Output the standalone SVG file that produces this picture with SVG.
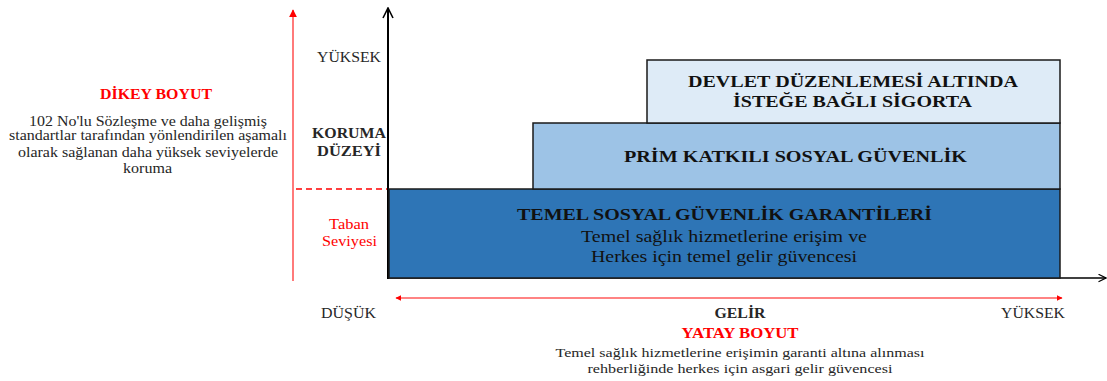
<svg xmlns="http://www.w3.org/2000/svg" width="1107" height="381" viewBox="0 0 1107 381">
<style>
text{font-family:"Liberation Serif","Times New Roman",serif;fill:#262626;text-anchor:middle;}
.b{font-weight:bold;}
.red{fill:#ff0000;}
.lbl{font-size:14px;}
.sm{font-size:12.5px;}
.box{stroke:#1a1a1a;stroke-width:1.5;}
.t{font-size:16px;font-weight:bold;fill:#111;}
.s{font-size:16px;fill:#111;}
</style>
<defs>
<marker id="redTri" viewBox="0 0 10 10" refX="9" refY="5" markerWidth="4" markerHeight="4" orient="auto-start-reverse" markerUnits="strokeWidth">
<path d="M0,0 L10,5 L0,10 z" fill="#ff0000"/>
</marker>
<marker id="openArr" viewBox="0 0 12 12" refX="11" refY="6" markerWidth="6" markerHeight="6" orient="auto" markerUnits="strokeWidth">
<path d="M1,1 L11,6 L1,11" fill="none" stroke="#000" stroke-width="1.6"/>
</marker>
</defs>

<g id="connectors">
<line x1="293" y1="281" x2="293" y2="10" stroke="#ff7a7a" stroke-width="2" marker-end="url(#redTri)"/>
<line x1="296" y1="189" x2="388" y2="189" stroke="#ff0000" stroke-width="1.5" stroke-dasharray="6,4"/>
<line x1="388" y1="279" x2="388" y2="8" stroke="#000" stroke-width="2" marker-end="url(#openArr)"/>
<line x1="388" y1="278" x2="1106" y2="278" stroke="#000" stroke-width="1.5" marker-end="url(#openArr)"/>
<line x1="396" y1="298" x2="1062" y2="298" stroke="#ff5a5a" stroke-width="1.5" marker-start="url(#redTri)" marker-end="url(#redTri)"/>
</g>

<g id="node-base">
<rect class="box" x="389" y="189" width="671" height="89" fill="#2e75b6"/>
<text class="t" x="724.5" y="220" textLength="415" lengthAdjust="spacingAndGlyphs">TEMEL SOSYAL GÜVENLİK GARANTİLERİ</text>
<text class="s" x="724" y="242" textLength="286" lengthAdjust="spacingAndGlyphs">Temel sağlık hizmetlerine erişim ve</text>
<text class="s" x="724" y="262" textLength="266" lengthAdjust="spacingAndGlyphs">Herkes için temel gelir güvencesi</text>
</g>

<g id="node-prim">
<rect class="box" x="533" y="123" width="527" height="66" fill="#9dc3e6"/>
<text class="t" x="795.5" y="162" textLength="343" lengthAdjust="spacingAndGlyphs">PRİM KATKILI SOSYAL GÜVENLİK</text>
</g>

<g id="node-devlet">
<rect class="box" x="647" y="60" width="413" height="63" fill="#deebf7"/>
<text class="t" x="853" y="87" textLength="330" lengthAdjust="spacingAndGlyphs">DEVLET DÜZENLEMESİ ALTINDA</text>
<text class="t" x="852.5" y="107" textLength="239" lengthAdjust="spacingAndGlyphs">İSTEĞE BAĞLI SİGORTA</text>
</g>

<g id="labels">
<text class="lbl" x="349" y="62" textLength="64" lengthAdjust="spacingAndGlyphs">YÜKSEK</text>
<text class="lbl b" x="349" y="138" textLength="74" lengthAdjust="spacingAndGlyphs">KORUMA</text>
<text class="lbl b" x="349" y="156" textLength="64" lengthAdjust="spacingAndGlyphs">DÜZEYİ</text>
<text class="lbl red" x="349" y="229" textLength="40" lengthAdjust="spacingAndGlyphs">Taban</text>
<text class="lbl red" x="349.5" y="246" textLength="55" lengthAdjust="spacingAndGlyphs">Seviyesi</text>
<text class="lbl b red" x="156" y="99" textLength="112" lengthAdjust="spacingAndGlyphs">DİKEY BOYUT</text>
<text class="lbl" x="148" y="126" textLength="238" lengthAdjust="spacingAndGlyphs">102 No'lu Sözleşme ve daha gelişmiş</text>
<text class="lbl" x="148" y="140" textLength="278" lengthAdjust="spacingAndGlyphs">standartlar tarafından yönlendirilen aşamalı</text>
<text class="lbl" x="148" y="157" textLength="260" lengthAdjust="spacingAndGlyphs">olarak sağlanan daha yüksek seviyelerde</text>
<text class="lbl" x="147.5" y="173" textLength="49" lengthAdjust="spacingAndGlyphs">koruma</text>
<text class="lbl" x="348.5" y="318" textLength="55" lengthAdjust="spacingAndGlyphs">DÜŞÜK</text>
<text class="lbl b" x="740" y="318" textLength="51" lengthAdjust="spacingAndGlyphs">GELİR</text>
<text class="lbl" x="1033" y="318" textLength="64" lengthAdjust="spacingAndGlyphs">YÜKSEK</text>
<text class="lbl b red" x="740" y="338" textLength="117" lengthAdjust="spacingAndGlyphs">YATAY BOYUT</text>
<text class="sm" x="740" y="357" textLength="369" lengthAdjust="spacingAndGlyphs">Temel sağlık hizmetlerine erişimin garanti altına alınması</text>
<text class="sm" x="740" y="373" textLength="305" lengthAdjust="spacingAndGlyphs">rehberliğinde herkes için asgari gelir güvencesi</text>
</g>
</svg>
